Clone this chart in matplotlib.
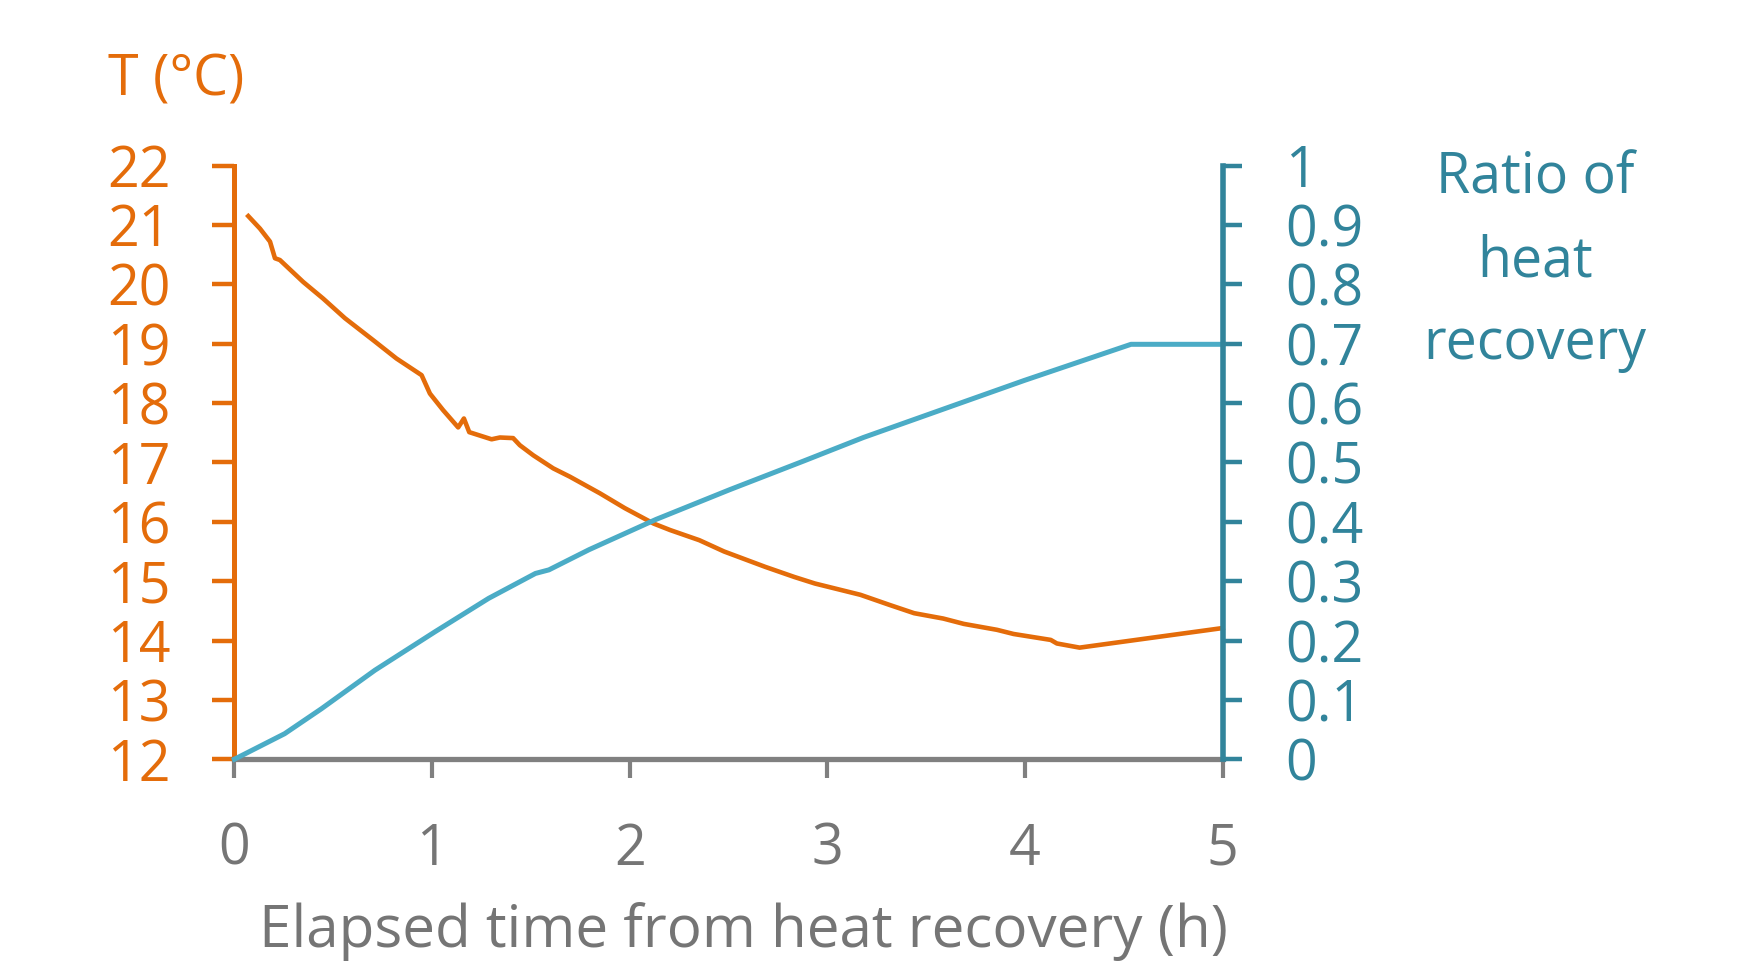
import numpy as np
import matplotlib
matplotlib.use("Agg")
import matplotlib.pyplot as plt

plt.rcParams['font.family'] = ['Open Sans', 'DejaVu Sans']

# temperature curve (h, degC)
t_time = [0.070, 0.129, 0.180, 0.205, 0.230, 0.348, 0.449, 0.559, 0.702, 0.820,
          0.947, 0.989, 1.056, 1.132, 1.161, 1.188, 1.301, 1.343, 1.410, 1.444,
          1.512, 1.613, 1.697, 1.849, 1.975, 2.121, 2.205, 2.352, 2.477, 2.686,
          2.833, 2.937, 3.167, 3.314, 3.439, 3.586, 3.690, 3.858, 3.942, 4.130,
          4.161, 4.276, 5.000]
temp = [21.15, 20.94, 20.72, 20.44, 20.41, 20.04, 19.76, 19.43, 19.06, 18.75,
        18.47, 18.16, 17.88, 17.59, 17.74, 17.51, 17.39, 17.42, 17.41, 17.29,
        17.12, 16.90, 16.76, 16.48, 16.23, 15.97, 15.86, 15.69, 15.50, 15.24,
        15.07, 14.96, 14.77, 14.60, 14.46, 14.37, 14.28, 14.18, 14.11, 14.01,
        13.95, 13.88, 14.21]

# ratio of heat recovery
r_time = [0.0, 0.254, 0.44, 0.711, 1.016, 1.286, 1.523, 1.591, 1.794, 2.133,
          2.505, 2.877, 3.182, 3.656, 3.995, 4.536, 5.0]
ratio = [0.0, 0.043, 0.085, 0.150, 0.215, 0.271, 0.313, 0.319, 0.353, 0.404,
         0.454, 0.502, 0.542, 0.598, 0.638, 0.699, 0.699]

x_ticks = [0, 1, 2, 3, 4, 5]
t_ticks = list(range(12, 23))
r_ticks = [0, 0.1, 0.2, 0.3, 0.4, 0.5, 0.6, 0.7, 0.8, 0.9, 1]
r_labels = ['0', '0.1', '0.2', '0.3', '0.4', '0.5', '0.6', '0.7', '0.8', '0.9', '1']

orange = '#E46C0A'
blue_line = '#4BACC6'
blue_axis = '#31849B'
gray = '#808080'
fs = 40

fig = plt.figure(figsize=(17.43, 9.63), dpi=100)
ax = fig.add_axes([0.1345, 0.2116, 0.567, 0.6164])
ax2 = ax.twinx()

ax.plot(t_time, temp, color=orange, lw=3.3, clip_on=False, zorder=3)
ax2.plot(r_time, ratio, color=blue_line, lw=3.6, clip_on=False)

ax.set_xlim(0, 5)
ax.set_ylim(12, 22)
ax2.set_ylim(0, 1)
ax.set_xticks(x_ticks)
ax.set_yticks(t_ticks)
ax2.set_yticks(r_ticks)
ax2.set_yticklabels(r_labels)

for a in (ax, ax2):
    a.spines['top'].set_visible(False)
ax.spines['right'].set_visible(False)
ax2.spines['left'].set_visible(False)
ax2.spines['bottom'].set_visible(False)
ax.spines['left'].set_color(orange)
ax.spines['left'].set_linewidth(3.6)
ax.spines['bottom'].set_color(gray)
ax.spines['bottom'].set_linewidth(3.8)
ax.spines['bottom'].set_zorder(4)
ax2.spines['right'].set_color(blue_axis)
ax2.spines['right'].set_linewidth(4.0)

ax.tick_params(axis='y', colors=orange, labelsize=fs, length=16, width=3.2, pad=30)
ax.tick_params(axis='x', colors=gray, labelcolor='#757575', labelsize=fs, length=14,
               width=3.0, pad=31)
ax2.tick_params(axis='y', colors=blue_axis, labelsize=fs, length=14, width=3.2, pad=31)

ax.set_xlabel('Elapsed time from heat recovery (h)', fontsize=42, color='#757575')
ax.xaxis.set_label_coords(0.515, -0.24)

fig.text(0.101, 0.901, 'T (°C)', color=orange, fontsize=fs, ha='center', va='baseline')
for i, line in enumerate(['Ratio of', 'heat', 'recovery']):
    fig.text(0.8807, 0.7993 - i * 0.0862, line, color=blue_axis, fontsize=fs,
             ha='center', va='baseline')

fig.savefig('out.png', dpi=100)
